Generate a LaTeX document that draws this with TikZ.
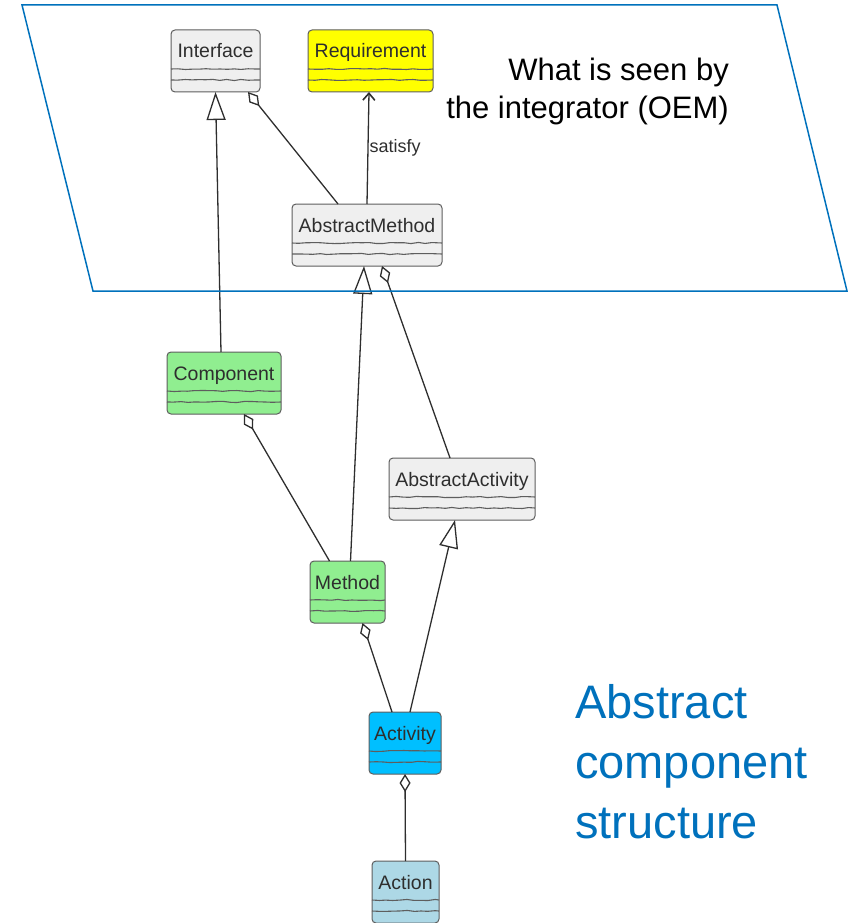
\documentclass[tikz,border=0pt]{standalone}
\usepackage{fontspec}
\setmainfont{Liberation Sans}
\usetikzlibrary{arrows.meta,decorations.pathmorphing}

\definecolor{boxgray}{HTML}{EFEFEF}
\definecolor{edgegray}{HTML}{5E5E5E}
\definecolor{inkgray}{HTML}{2E2E2E}
\definecolor{reqyellow}{HTML}{FFFF00}
\definecolor{compgreen}{HTML}{90EE90}
\definecolor{actblue}{HTML}{00BFFF}
\definecolor{actionblue}{HTML}{ADD8E6}
\definecolor{oemblue}{HTML}{0071BC}

\tikzset{
  classbox/.style={draw=edgegray, line width=1pt, rounded corners=4pt,
    minimum height=62pt, inner sep=0pt, outer sep=0pt},
  classname/.style={font=\fontsize{19.5}{22}\selectfont, text=inkgray,
    anchor=base, inner sep=0pt},
  compline/.style={draw=edgegray, line width=1.1pt, decorate,
    decoration={random steps, segment length=7pt, amplitude=0.6pt}},
  link/.style={draw=inkgray, line width=1.3pt},
  generalize/.style={link, -{Triangle[open, length=28pt, width=19pt, fill=white]}},
  aggregate/.style={link, {Diamond[open, length=18pt, width=11pt, fill=white]}-},
  satisfies/.style={link, -{Straight Barb[length=7pt, width=12pt, line width=1.6pt]}},
}

% UML class: name, centre x, top y, width, fill, label
\newcommand\umlclass[6]{%
  \node[classbox, fill=#5, minimum width=#4pt, anchor=north] (#1) at (#2,#3) {};
  \node[classname] (#1-name) at ([yshift=-28pt]#1.north) {#6};
  \path[compline] ([yshift=-39pt]#1.north west) -- ([yshift=-39pt]#1.north east);
  \path[compline] ([yshift=-50pt]#1.north west) -- ([yshift=-50pt]#1.north east);
}

\begin{document}
\begin{tikzpicture}[x=1pt, y=-1pt]
  \useasboundingbox (0,0) rectangle (847,923);

  % classes
  \umlclass{iface}{215.5}{30}{89}{boxgray}{Interface}
  \umlclass{req}{370.5}{30}{125}{reqyellow}{Requirement}
  \umlclass{amethod}{367}{204}{150}{boxgray}{AbstractMethod}
  \umlclass{comp}{224}{352}{114}{compgreen}{Component}
  \umlclass{aact}{462}{458}{146}{boxgray}{AbstractActivity}
  \umlclass{method}{347.5}{561}{75}{compgreen}{Method}
  \umlclass{activity}{405}{712}{72}{actblue}{Activity}
  \umlclass{action}{405.5}{861}{67}{actionblue}{Action}

  % relations
  \draw[generalize] ([xshift=-3pt]comp.north) -- (iface.south);
  \draw[aggregate] ([xshift=-12pt]iface.south east) -- ([xshift=-29pt]amethod.north);
  \draw[satisfies] (amethod.north)
    -- node[pos=0.5, anchor=west, inner sep=1pt, font=\fontsize{18}{21}\selectfont,
            text=inkgray] (satlabel) {satisfy}
    ([xshift=-1.5pt]req.south);
  \draw[generalize] ([xshift=3pt]method.north) -- ([xshift=-3pt]amethod.south);
  \draw[aggregate] ([xshift=15pt]amethod.south) -- ([xshift=-12pt]aact.north);
  \draw[aggregate] ([xshift=20pt]comp.south) -- ([xshift=-18pt]method.north);
  \draw[generalize] ([xshift=5pt]activity.north) -- ([xshift=-7pt]aact.south);
  \draw[aggregate] ([xshift=15pt]method.south) -- ([xshift=-13pt]activity.north);
  \draw[aggregate] (activity.south) -- (action.north);

  % integrator view
  \draw[oemblue, line width=1.5pt] (22,5) -- (777,5) -- (847,291) -- (93,291) -- cycle;
  \node[font=\fontsize{31}{38}\selectfont, align=right, anchor=base east,
        inner sep=0pt] (oemnote) at (729,118) {What is seen by\\the integrator (OEM)};

  \node[font=\fontsize{47}{60}\selectfont, text=oemblue, align=left,
        anchor=base west, inner sep=0pt] (title) at (575,838)
        {Abstract\\component\\structure};
\end{tikzpicture}
\end{document}
